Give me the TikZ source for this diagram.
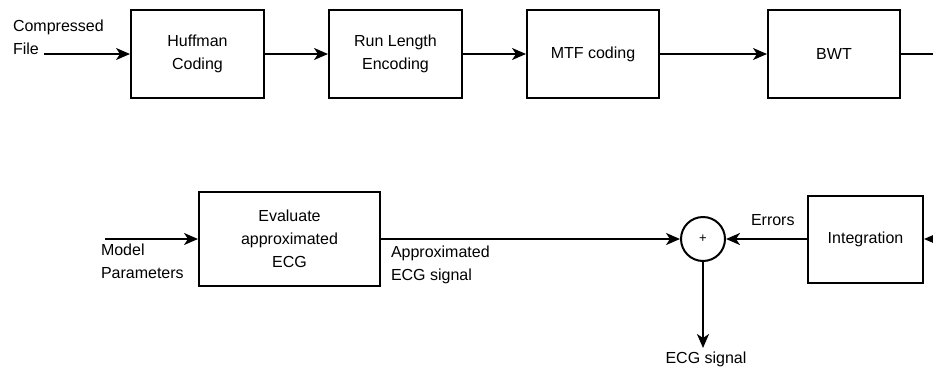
\documentclass[tikz,border=0pt]{standalone}
\usepackage{fontspec}
\setmainfont{Liberation Sans}
\usetikzlibrary{arrows.meta}
\begin{document}
\begin{tikzpicture}[x=1pt,y=-1pt,
  font=\fontsize{16}{23}\selectfont,
  line width=2pt,
  >={Stealth[length=14pt,width=12pt,inset=4pt]},
  block/.style={draw,rectangle,align=center,inner sep=0pt},
  lbl/.style={inner sep=0pt,align=left},
  flow/.style={draw,->}]
\useasboundingbox (0,0) rectangle (933,367);

% decompression chain
\node[block,minimum width=133pt,minimum height=88pt] (huff) at (197.5,54) {Huffman\\Coding};
\node[block,minimum width=133pt,minimum height=88pt] (rle)  at (395.5,54) {Run Length\\Encoding};
\node[block,minimum width=132pt,minimum height=88pt] (mtf)  at (593,54) {MTF coding};
\node[block,minimum width=132pt,minimum height=88pt] (bwt)  at (834,54) {BWT};

\node[lbl,anchor=north west] (cfile) at (12,18.5) {Compressed\\File};
\coordinate (cin) at (44,54);
\coordinate (bwtout) at (933,54);

\draw[flow] (cin) -- (huff);
\draw[flow] (huff) -- (rle);
\draw[flow] (rle) -- (mtf);
\draw[flow] (mtf) -- (bwt);
\draw (bwt) -- (bwtout);

% reconstruction
\node[block,minimum width=181pt,minimum height=94pt] (eval) at (289.5,239) {Evaluate\\approximated\\ECG};
\node[draw,circle,minimum size=44pt,inner sep=0pt,font=\fontsize{13}{15}\selectfont] (sum) at (703,239) {+};
\node[block,minimum width=115pt,minimum height=87pt] (integ) at (865.5,239) {Integration};

\coordinate (min) at (105,239);
\coordinate (intin) at (933,239);
\coordinate (ecgout) at (703,348);

\node[lbl,anchor=north west] (mparams) at (100,243) {Model\\Parameters};
\node[lbl,anchor=north west] (approx) at (390,245) {Approximated\\ECG signal};
\node[lbl,anchor=base west] (errs) at (750,225) {Errors};
\node[lbl,anchor=base] (ecgsig) at (706,363) {ECG signal};

\draw[flow] (min) -- (eval);
\draw[flow] (eval) -- (sum);
\draw[flow] (integ) -- (sum);
\draw[flow] (intin) -- (integ);
\draw[flow] (sum) -- (ecgout);
\end{tikzpicture}
\end{document}
